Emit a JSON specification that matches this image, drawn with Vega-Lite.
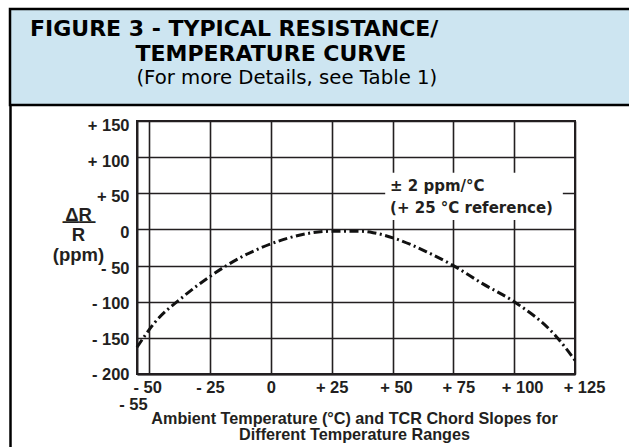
{
  "$schema": "https://vega.github.io/schema/vega-lite/v6.json",
  "padding": {"left": 8, "top": 7, "right": 0, "bottom": 0},
  "background": "white",
  "spacing": 0,
  "bounds": "flush",
  "config": {"view": {"stroke": null}, "font": "Liberation Sans", "title": {"lineHeight": 25}},
  "vconcat": [
    {
      "width": 621,
      "height": 96,
      "view": {"fill": "#cde5f1", "stroke": "#000000", "strokeWidth": 2.5, "strokeDash": [621, 96, 717]},
      "title": {
        "text": ["FIGURE 3 - TYPICAL RESISTANCE/", "\u200B\u2003\u2003\u2003\u2003\u00A0\u00A0\u200ATEMPERATURE CURVE"],
        "subtitle": "\u200B\u00A0\u00A0\u00A0\u00A0\u00A0\u00A0\u00A0\u00A0\u00A0\u00A0\u00A0\u00A0\u00A0\u00A0\u00A0\u00A0\u00A0(For more Details, see Table 1)",
        "anchor": "start",
        "frame": "group",
        "orient": "top",
        "offset": -80,
        "dx": 20,
        "font": "DejaVu Sans",
        "fontWeight": "bold",
        "fontSize": 22,
        "lineHeight": 25,
        "color": "#000000",
        "subtitleFont": "DejaVu Sans",
        "subtitleFontSize": 19.7,
        "subtitleFontWeight": "normal",
        "subtitleColor": "#000000",
        "subtitlePadding": 2
      },
      "data": {"values": [{}]},
      "mark": {"type": "text"},
      "encoding": {"text": {"value": ""}}
    },
    {
      "hconcat": [
        {
          "width": 1,
          "height": 343,
          "view": {"fill": "#000000", "stroke": "#000000", "strokeWidth": 1.5},
          "data": {"values": [{}]},
          "mark": {"type": "text"},
          "encoding": {"text": {"value": ""}}
        },
        {
          "spacing": 0,
          "bounds": "flush",
          "vconcat": [
            {
              "width": 438,
              "height": 16,
              "data": {"values": [{}]},
              "mark": {"type": "text"},
              "encoding": {"text": {"value": ""}}
            },
            {
              "width": 438,
              "height": 253,
              "view": {"stroke": "#231f20", "strokeWidth": 2},
              "encoding": {
                "x": {
                  "field": "T", "type": "quantitative",
                  "scale": {"domain": [-55, 125], "nice": false, "zero": false},
                  "axis": {
                    "values": [-50, -25, 0, 25, 50, 75, 100, 125],
                    "labelExpr": "datum.value > 0 ? '+ ' + datum.value : datum.value < 0 ? '- ' + (-datum.value) : '0'",
                    "ticks": false,
                    "domainColor": "#231f20", "domainWidth": 2,
                    "grid": true, "gridColor": "#231f20", "gridWidth": 1.6, "gridOpacity": 1,
                    "labelFont": "Liberation Sans", "labelFontWeight": "bold", "labelFontSize": 16.5,
                    "labelColor": "#231f20", "labelPadding": 5, "labelFlush": false, "labelOverlap": false,
                    "labelOffset": {"condition": [
                      {"test": "datum.value == 125", "value": 9},
                      {"test": "datum.value == 100", "value": 8},
                      {"test": "datum.value == 75", "value": 5},
                      {"test": "datum.value == 50", "value": 3.5},
                      {"test": "datum.value == -50", "value": -2}
                    ], "value": 0},
                    "title": ["Ambient Temperature (°C) and TCR Chord Slopes for", "Different Temperature Ranges"],
                    "titleFont": "Liberation Sans", "titleFontWeight": "bold", "titleFontSize": 16.2,
                    "titleColor": "#231f20", "titleLineHeight": 16.5,
                    "titleX": 217, "titleY": 49, "titleAlign": "center", "titleBaseline": "alphabetic"
                  }
                },
                "y": {
                  "field": "ppm", "type": "quantitative",
                  "scale": {"domain": [-200, 150], "nice": false, "zero": false},
                  "axis": {
                    "values": [-200, -150, -100, -50, 0, 50, 100, 150],
                    "labelExpr": "datum.value > 0 ? '+ ' + datum.value : datum.value < 0 ? '- ' + (-datum.value) : '0'",
                    "ticks": false,
                    "domainColor": "#231f20", "domainWidth": 2,
                    "grid": true, "gridColor": "#231f20", "gridWidth": 1.6, "gridOpacity": 1,
                    "labelFont": "Liberation Sans", "labelFontWeight": "bold", "labelFontSize": 16.5,
                    "labelColor": "#231f20", "labelPadding": 8, "labelBaseline": "middle",
                    "labelFlush": false, "labelOverlap": false,
                    "labelOffset": {"condition": [
                      {"test": "datum.value >= 100", "value": 4.5},
                      {"test": "datum.value >= -50", "value": 3},
                      {"test": "datum.value >= -150", "value": 1.5}
                    ], "value": 0},
                    "title": ["\u0394R", "R", "(ppm)"],
                    "titleFont": "Liberation Sans", "titleFontWeight": "bold", "titleFontSize": 18.5,
                    "titleColor": "#231f20", "titleLineHeight": 20, "titleAngle": 0,
                    "titleX": -59, "titleY": 99, "titleAlign": "center", "titleBaseline": "alphabetic"
                  }
                }
              },
              "layer": [
                {
                  "data": {"values": [
                    {"T": -55, "ppm": -163}, {"T": -48, "ppm": -130}, {"T": -36, "ppm": -93},
                    {"T": -25, "ppm": -65}, {"T": -12, "ppm": -38}, {"T": 0, "ppm": -20},
                    {"T": 13, "ppm": -7}, {"T": 25, "ppm": -2.5}, {"T": 36, "ppm": -2.5},
                    {"T": 42, "ppm": -4.5}, {"T": 51, "ppm": -12.5}, {"T": 64, "ppm": -31},
                    {"T": 75, "ppm": -50}, {"T": 87, "ppm": -75}, {"T": 100, "ppm": -100},
                    {"T": 117, "ppm": -147}, {"T": 125, "ppm": -181}
                  ]},
                  "mark": {"type": "line", "interpolate": "monotone", "strokeDash": [9, 3.5, 2, 3.5], "strokeWidth": 3, "color": "#111111"}
                },
                {
                  "data": {"values": [{"T": 47, "T2": 120, "ppm": 78.5, "ppm2": 13}]},
                  "mark": {"type": "rect", "color": "#ffffff"},
                  "encoding": {
                    "x2": {"field": "T2"},
                    "y2": {"field": "ppm2"}
                  }
                },
                {
                  "data": {"values": [{"T": 49, "ppm": 53, "label": ["± 2 ppm/°C", "(+ 25 °C reference)"]}]},
                  "mark": {"type": "text", "align": "left", "baseline": "alphabetic", "font": "DejaVu Sans", "fontWeight": "bold", "fontSize": 15, "lineHeight": 22, "color": "#231f20"},
                  "encoding": {
                    "text": {"field": "label"}
                  }
                },
                {
                  "data": {"values": [{"T": -55, "ppm": -200, "label": "- 55"}]},
                  "mark": {"type": "text", "align": "center", "baseline": "alphabetic", "dx": -3.5, "dy": 36, "font": "Liberation Sans", "fontWeight": "bold", "fontSize": 16.5, "color": "#231f20"},
                  "encoding": {
                    "text": {"field": "label"}
                  }
                },
                {
                  "data": {"values": [{"T": -55, "ppm": 0, "label": "\u2014\u2014"}]},
                  "mark": {"type": "text", "align": "center", "baseline": "alphabetic", "dx": -58, "dy": -2, "font": "Liberation Sans", "fontWeight": "bold", "fontSize": 16.5, "color": "#231f20"},
                  "encoding": {
                    "text": {"field": "label"}
                  }
                }
              ]
            }
          ]
        }
      ],
      "spacing": 126,
      "bounds": "flush"
    }
  ]
}
